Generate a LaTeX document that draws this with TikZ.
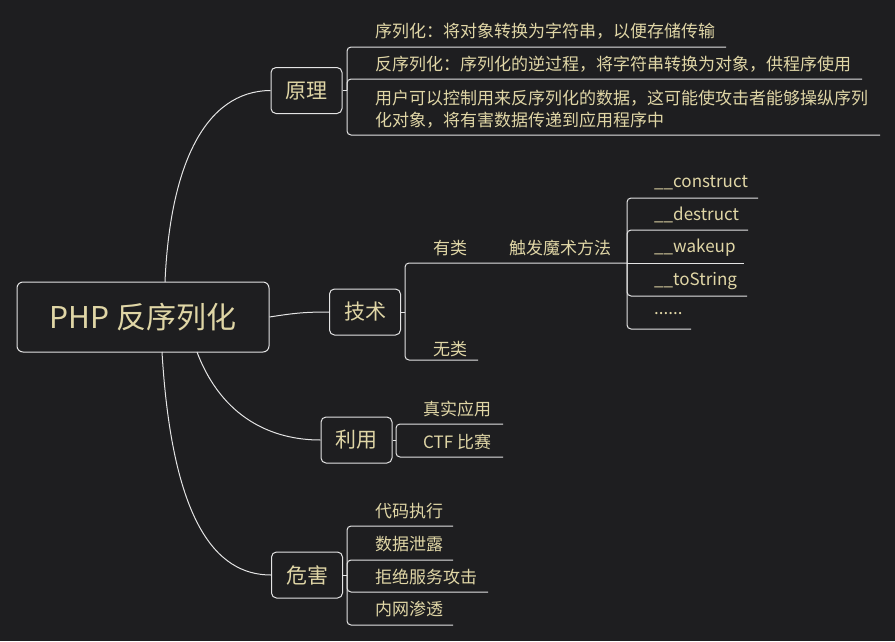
\documentclass[tikz,border=0pt]{standalone}
\usepackage{fontspec}
\setmainfont{Noto Sans CJK SC}
\definecolor{bg}{RGB}{30,30,32}
\definecolor{txt}{RGB}{224,214,166}
\definecolor{ln}{RGB}{228,228,228}
\begin{document}
\begin{tikzpicture}[x=1pt,y=-1pt,
 box/.style={draw=ln, line width=1pt, rounded corners=5pt, fill=bg, text=txt, font=\fontsize{21}{21}\selectfont, minimum width=71pt, minimum height=46pt, inner sep=0pt},
 rootbox/.style={box, minimum width=252pt, minimum height=70pt, font=\fontsize{30}{30}\selectfont, rounded corners=6pt},
 leaf/.style={text=txt, font=\fontsize{17}{22}\selectfont, anchor=west, inner sep=0pt, align=left},
 link/.style={draw=ln, line width=1pt},
 bracket/.style={link, rounded corners=4pt}]
\fill[bg] (0,0) rectangle (895,641);
\useasboundingbox (0,0) rectangle (895,641);

% root and main branches
\node[rootbox] (root) at (143,317) {PHP 反序列化};
\node[box] (yl) at (306.5,90.5) {原理};
\node[box] (js) at (365,312) {技术};
\node[box] (ly) at (356.5,440) {利用};
\node[box] (wh) at (307,575) {危害};

\coordinate (r1) at (165,282);
\coordinate (r3) at (197,352);
\coordinate (r4) at (162,352);
\draw[link] (r1) .. controls (170,165) and (205,91) .. (yl.west);
\draw[link] (root.east) .. controls (295,313) and (305,312) .. (js.west);
\draw[link] (r3) .. controls (222,418) and (272,440) .. (ly.west);
\draw[link] (r4) .. controls (172,520) and (215,575) .. (wh.west);

% 原理 children
\node[leaf] (y1) at (375,31) {序列化：将对象转换为字符串，以便存储传输};
\node[leaf] (y2) at (375,64) {反序列化：序列化的逆过程，将字符串转换为对象，供程序使用};
\node[leaf] (y3) at (375,109) {用户可以控制用来反序列化的数据，这可能使攻击者能够操纵序列\\化对象，将有害数据传递到应用程序中};
\coordinate (yj) at (347,90.5);
\coordinate (y1e) at (726,47);
\coordinate (y2e) at (862,79);
\coordinate (y3e) at (880,135);
\draw[link] (yl.east) -- (yj);
\draw[bracket] (yj) |- (y1e);
\draw[bracket] (yj) |- (y2e);
\draw[bracket] (yj) |- (y3e);

% 技术 children
\node[leaf] (j1) at (433,248) {有类};
\node[leaf] (j2) at (433,349) {无类};
\node[leaf] (jm) at (509,248) {触发魔术方法};
\coordinate (jj) at (405,312);
\coordinate (j1e) at (627,263);
\coordinate (j2e) at (478,360);
\draw[link] (js.east) -- (jj);
\draw[bracket] (jj) |- (j1e);
\draw[bracket] (jj) |- (j2e);

\node[leaf] (m1) at (654,183) {\_\_construct};
\node[leaf] (m2) at (654,215) {\_\_destruct};
\node[leaf] (m3) at (654,248) {\_\_wakeup};
\node[leaf] (m4) at (654,281) {\_\_toString};
\node[leaf] (m5) at (654,314) {......};
\coordinate (m1e) at (758,198);
\coordinate (m2e) at (748,230);
\coordinate (m3e) at (744,263);
\coordinate (m4e) at (747,296);
\coordinate (m5e) at (691,329);
\draw[bracket] (j1e) |- (m1e);
\draw[bracket] (j1e) |- (m2e);
\draw[link] (j1e) -- (m3e);
\draw[bracket] (j1e) |- (m4e);
\draw[bracket] (j1e) |- (m5e);

% 利用 children
\node[leaf] (l1) at (423,409) {真实应用};
\node[leaf] (l2) at (423,442) {CTF 比赛};
\coordinate (lj) at (396,440);
\coordinate (l1e) at (503,424);
\coordinate (l2e) at (503,457);
\draw[link] (ly.east) -- (lj);
\draw[bracket] (lj) |- (l1e);
\draw[bracket] (lj) |- (l2e);

% 危害 children
\node[leaf] (w1) at (375,511) {代码执行};
\node[leaf] (w2) at (375,544) {数据泄露};
\node[leaf] (w3) at (375,577) {拒绝服务攻击};
\node[leaf] (w4) at (375,609) {内网渗透};
\coordinate (wj) at (347,575);
\coordinate (w1e) at (453,526);
\coordinate (w2e) at (453,560);
\coordinate (w3e) at (488,592);
\coordinate (w4e) at (453,625);
\draw[link] (wh.east) -- (wj);
\draw[bracket] (wj) |- (w1e);
\draw[bracket] (wj) |- (w2e);
\draw[bracket] (wj) |- (w3e);
\draw[bracket] (wj) |- (w4e);
\end{tikzpicture}
\end{document}
